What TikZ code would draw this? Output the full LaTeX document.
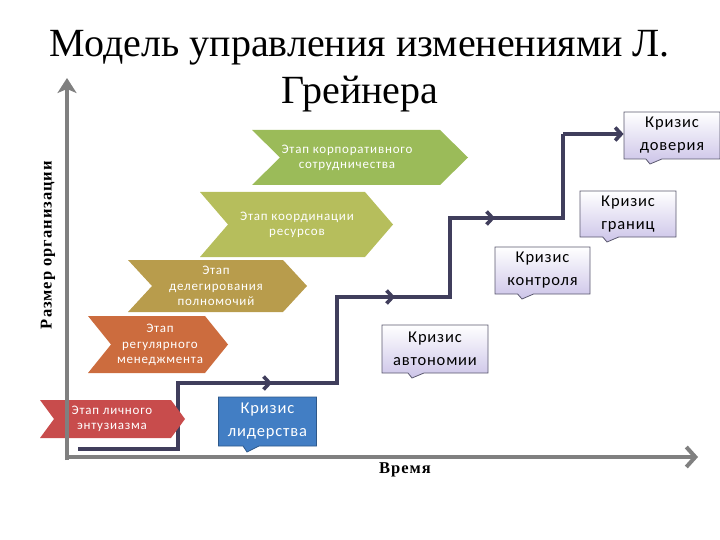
\documentclass[tikz,border=0pt]{standalone}
\usepackage{fontspec}
\setmainfont{Liberation Serif}
\newfontfamily\carl{Carlito}
\usetikzlibrary{arrows.meta,shapes.callouts}
\definecolor{axisgray}{RGB}{128,128,128}
\definecolor{stairc}{RGB}{64,62,92}
\definecolor{cred}{RGB}{200,76,76}
\definecolor{corange}{RGB}{204,108,62}
\definecolor{cgold}{RGB}{184,156,76}
\definecolor{cyel}{RGB}{182,190,92}
\definecolor{cgreen}{RGB}{155,187,89}
\definecolor{lav}{RGB}{204,196,232}
\definecolor{cblue}{RGB}{66,126,196}
\definecolor{bordc}{RGB}{90,88,110}
\newcommand\chevshape[7]{% name, x0, x1, ytop, ybot, depth, colour
  \fill[#7] (#2,#4) -- ({#3-#6},#4) -- (#3,{(#4+#5)/2}) -- ({#3-#6},#5) -- (#2,#5) -- ({#2+#6},{(#4+#5)/2}) -- cycle;
  \coordinate (#1) at ({(#2+#3)/2+#6/2},{(#4+#5)/2});}
\begin{document}
\begin{tikzpicture}[x=1pt,y=-1pt,
  stagetext/.style={text=white, align=center, font=\carl\fontsize{13}{15.5}\selectfont\addfontfeatures{LetterSpace=6}, inner sep=0pt},
  crisis/.style={rectangle callout, draw=bordc, line width=0.8pt, top color=white, bottom color=lav,
     align=center, inner sep=0pt, callout pointer width=16pt,
     font=\carl\fontsize{16.5}{23}\selectfont\addfontfeatures{LetterSpace=5}},
  axisline/.style={draw=axisgray, line width=4pt},
  stair/.style={draw=stairc, line width=3.6pt},
  midtip/.style={-{Straight Barb[length=6pt,width=13pt]}},
  axislabel/.style={font=\bfseries\fontsize{16.5}{16.5}\selectfont\addfontfeatures{LetterSpace=6}}]
\useasboundingbox (0,0) rectangle (720,540);

% titles
\node[anchor=base, font=\fontsize{40}{46}\selectfont] (t1) at (360,57) {Модель управления изменениями Л.};
\node[anchor=base, font=\fontsize{40}{46}\selectfont] (t2) at (360,104) {Грейнера};

% staircase
\coordinate (s0) at (78,449);
\coordinate (s1) at (178,449);
\coordinate (s2) at (178,383);
\coordinate (m1) at (272,383);
\coordinate (s3) at (337,383);
\coordinate (s4) at (337,297);
\coordinate (m2) at (395,297);
\coordinate (s5) at (450,297);
\coordinate (s6) at (450,218);
\coordinate (m3) at (495,218);
\coordinate (s7) at (563,218);
\coordinate (s8) at (563,134);

\draw[stair, line join=miter] (s0) -- (s1) -- (s2) -- (s3) -- (s4) -- (s5) -- (s6) -- (s7) -- (s8);
\draw[stair, midtip] (s2) -- (m1);
\draw[stair, midtip] (s4) -- (m2);
\draw[stair, midtip] (s6) -- (m3);

% stage chevrons
\chevshape{c1}{40}{185}{400}{438}{14}{cred}
\chevshape{c2}{88}{228}{316}{373}{23}{corange}
\chevshape{c3}{128}{307}{260}{312}{24}{cgold}
\chevshape{c4}{200}{393}{192}{257}{28}{cyel}
\chevshape{c5}{252}{468}{130}{185}{28}{cgreen}
\node[stagetext] (n1) at (112,419) {Этап личного\\энтузиазма};
\node[stagetext] (n2) at (160,345) {Этап\\регулярного\\менеджмента};
\node[stagetext] (n3) at (216,286) {Этап\\делегирования\\полномочий};
\node[stagetext] (n4) at (297,225) {Этап координации\\ресурсов};
\node[stagetext] (n5) at (347,158) {Этап корпоративного\\сотрудничества};

% crisis boxes
\node[crisis, top color=cblue, bottom color=cblue, draw=cblue!70!black, text=white,
  minimum width=98pt, minimum height=49pt, callout absolute pointer={(247,452)}] (k1) at (267.5,421.5) {Кризис\\лидерства};
\node[crisis, minimum width=106pt, minimum height=48pt, callout absolute pointer={(412,378)}] (k2) at (435,349) {Кризис\\автономии};
\node[crisis, minimum width=95pt, minimum height=47pt, callout absolute pointer={(522,299)}] (k3) at (542.5,270.5) {Кризис\\контроля};
\node[crisis, minimum width=96pt, minimum height=46pt, callout absolute pointer={(607,242)}] (k4) at (628,214) {Кризис\\границ};
\node[crisis, minimum width=96pt, minimum height=47pt, callout absolute pointer={(650,164)}] (k5) at (672,135.5) {Кризис\\доверия};

\draw[stair, midtip] (s8) -- (k5.west |- s8);

% axes
\coordinate (o) at (67,457);
\coordinate (ytop) at (67,78);
\coordinate (xend) at (698,457);
\draw[axisline, -{Stealth[length=15pt,width=19pt,inset=4pt]}] (67,460) -- (ytop);
\draw[axisline, -{Straight Barb[length=9pt,width=20pt]}] (o) -- (xend);

\node[rotate=90, axislabel] (ylab) at (48,245) {Размер организации};
\node[axislabel] (xlab) at (405,470) {Время};
\end{tikzpicture}
\end{document}
